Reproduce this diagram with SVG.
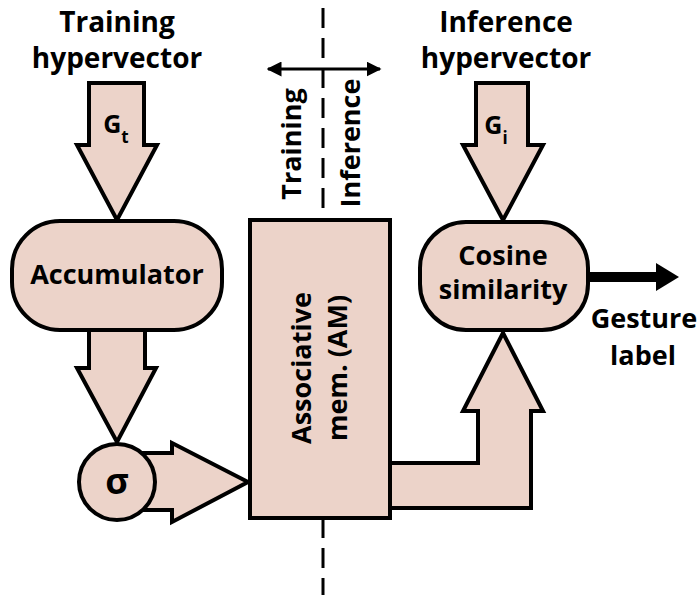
<svg xmlns="http://www.w3.org/2000/svg" width="698" height="595" viewBox="0 0 698 595">
  <defs>
    <style>
      .shape { fill: #ECD3C9; stroke: #000; stroke-width: 4; stroke-linejoin: miter; }
      .lbl { font-family: "Open Sans", "Liberation Sans", sans-serif; font-weight: bold; fill: #000; text-anchor: middle; }
      .title { font-size: 28px; }
      .node { font-size: 27px; }
      .dash { stroke: #000; stroke-width: 3; stroke-dasharray: 20 10; fill: none; }
    </style>
    <marker id="tip" viewBox="0 0 10 10" refX="9" refY="5" markerWidth="5" markerHeight="5" orient="auto-start-reverse">
      <path d="M0,0 L10,5 L0,10 Z" fill="#000"/>
    </marker>
  </defs>

  <rect width="698" height="595" fill="#fff"/>

  <!-- phase divider -->
  <g id="divider">
    <line class="dash" x1="323" y1="8" x2="323" y2="595"/>
    <line x1="268" y1="69" x2="380" y2="69" stroke="#000" stroke-width="3" marker-start="url(#tip)" marker-end="url(#tip)"/>
    <text class="lbl node" transform="translate(301,144) rotate(-90)">Training</text>
    <text class="lbl node" transform="translate(360,143) rotate(-90)">Inference</text>
  </g>

  <!-- titles -->
  <g id="training-input">
    <text class="lbl title" x="117" y="32">Training</text>
    <text class="lbl title" x="117" y="68">hypervector</text>
  </g>
  <g id="inference-input">
    <text class="lbl title" x="506" y="32">Inference</text>
    <text class="lbl title" x="506" y="68">hypervector</text>
  </g>

  <!-- connectors -->
  <g id="connectors">
    <!-- G_t into accumulator -->
    <path class="shape" d="M89,83 L144,83 L144,145 L157,145 L117,220 L77,145 L89,145 Z"/>
    <text class="lbl" x="116" y="133" font-size="25">G<tspan font-size="17" dy="10">t</tspan></text>
    <!-- accumulator to sigma -->
    <path class="shape" d="M89,330 L145,330 L145,368 L156,368 L117,442 L77,368 L89,368 Z"/>
    <!-- sigma to AM -->
    <path class="shape" d="M140,453 L172,453 L172,443 L248,482 L172,522 L172,510 L140,510 Z"/>
    <!-- G_i into cosine -->
    <path class="shape" d="M476,83 L528,83 L528,145 L543,145 L503,220 L463,145 L476,145 Z"/>
    <text class="lbl" x="496" y="134" font-size="25">G<tspan font-size="17" dy="10">i</tspan></text>
    <!-- AM to cosine -->
    <path class="shape" d="M388,463 L478,463 L478,411 L463,411 L503,333 L543,411 L531,411 L531,508 L388,508 Z"/>
    <!-- output -->
    <line x1="588" y1="277" x2="660" y2="277" stroke="#000" stroke-width="10"/>
    <path d="M656,263 L679,277 L656,291 Z" fill="#000"/>
  </g>

  <!-- nodes -->
  <g id="accumulator">
    <rect class="shape" x="12" y="221" width="210" height="109" rx="48" ry="48"/>
    <text class="lbl node" x="117" y="284">Accumulator</text>
  </g>

  <g id="sigma">
    <circle class="shape" cx="117" cy="482" r="38"/>
    <text class="lbl" x="117" y="494" font-size="36">σ</text>
  </g>

  <g id="am">
    <rect class="shape" x="250" y="220" width="140" height="298"/>
    <text class="lbl node" transform="translate(311,368) rotate(-90)">Associative</text>
    <text class="lbl node" transform="translate(347,368) rotate(-90)">mem. (AM)</text>
  </g>

  <g id="cosine">
    <rect class="shape" x="420" y="222" width="168" height="108" rx="46" ry="46"/>
    <text class="lbl node" x="503" y="265">Cosine</text>
    <text class="lbl node" x="503" y="299">similarity</text>
  </g>

  <g id="output-label">
    <text class="lbl node" x="644" y="328">Gesture</text>
    <text class="lbl node" x="643" y="365">label</text>
  </g>
</svg>
